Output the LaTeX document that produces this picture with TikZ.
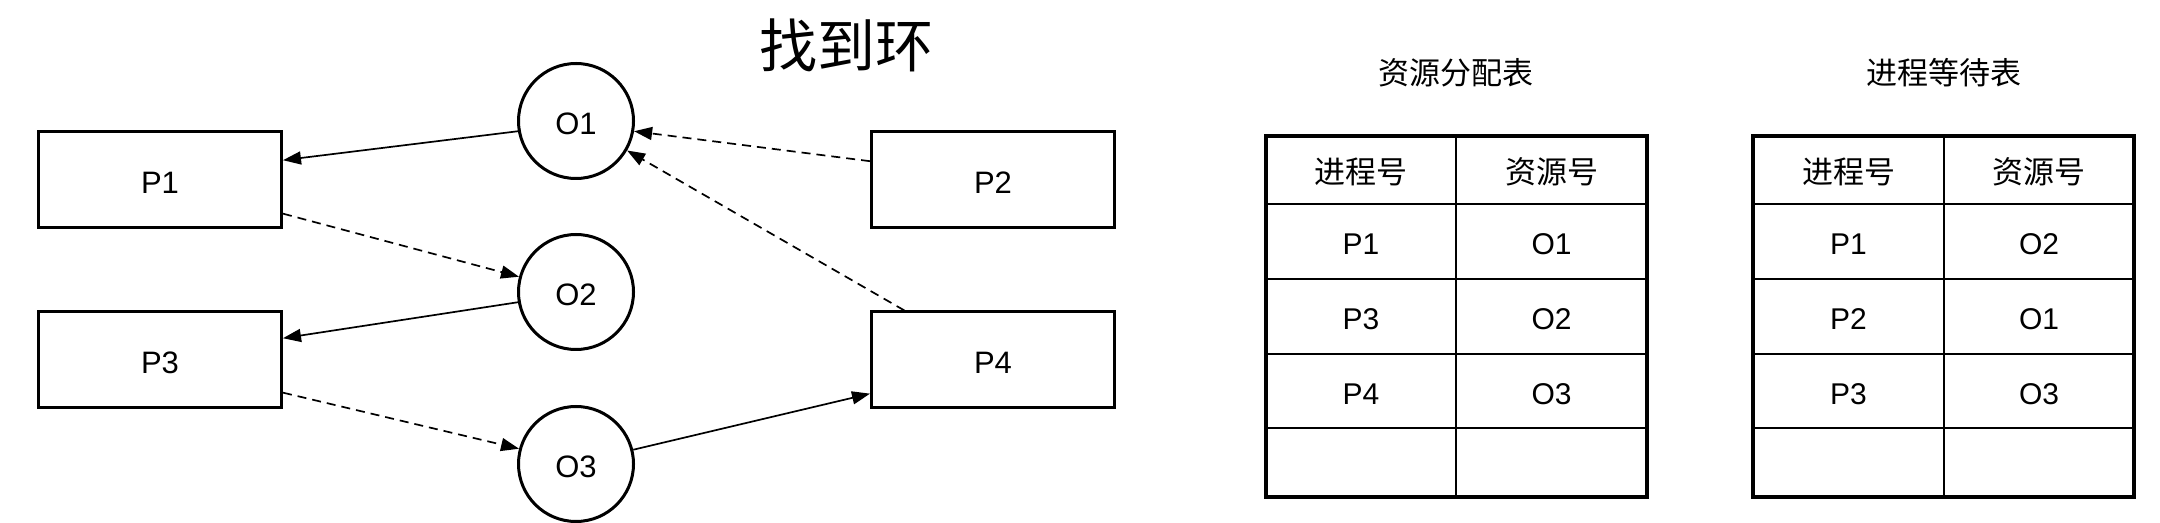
\documentclass[tikz,border=0pt]{standalone}
\usepackage{fontspec}
\setmainfont{Liberation Sans}
\newfontfamily\cjk{Noto Sans CJK SC}
\usetikzlibrary{arrows.meta,calc}
\begin{document}
\begin{tikzpicture}[x=1pt,y=1pt,
  proc/.style={draw, line width=3pt, minimum width=243pt, minimum height=96pt, inner sep=0pt, text height=27.5pt, text depth=0pt, font=\fontsize{31}{37}\selectfont},
  res/.style={draw, circle, line width=3pt, minimum size=115pt, inner sep=0pt, text height=28pt, text depth=0pt, font=\fontsize{31}{37}\selectfont},
  solidarrow/.style={line width=1.7pt, -{Triangle[length=18pt,width=13pt]}},
  dasharrow/.style={solidarrow, dash pattern=on 9pt off 6pt},
  title/.style={font=\cjk\fontsize{58}{66}\selectfont, inner sep=0pt},
  ttitle/.style={font=\cjk\fontsize{31}{37}\selectfont, inner sep=0pt},
  cellcjk/.style={font=\cjk\fontsize{31}{37}\selectfont, inner sep=0pt},
  cell/.style={font=\fontsize{30}{36}\selectfont, inner sep=0pt},
  outer/.style={line width=4pt},
  inner/.style={line width=2pt}]
\fill[white] (0,0) rectangle (2160,522);
\useasboundingbox (0,0) rectangle (2160,522);

% title
\node[title] (title) at (846,477) {找到环};

% processes
\node[proc] (P1) at (160,342) {P1};
\node[proc] (P3) at (160,162) {P3};
\node[proc] (P2) at (993,342) {P2};
\node[proc] (P4) at (993,162) {P4};

% resources
\node[res] (O1) at (576,401) {O1};
\node[res] (O2) at (576,230) {O2};
\node[res] (O3) at (576,58) {O3};

% connectors
\draw[solidarrow] (O1.190) -- ($(P1.north east)!0.3!(P1.south east)$);
\draw[dasharrow] ($(P1.north east)!0.84!(P1.south east)$) -- (O2.165);
\draw[solidarrow] (O2.190) -- ($(P3.north east)!0.28!(P3.south east)$);
\draw[dasharrow] ($(P3.north east)!0.83!(P3.south east)$) -- (O3.165);
\draw[solidarrow] (O3.14) -- ($(P4.north west)!0.84!(P4.south west)$);
\draw[dasharrow] ($(P2.north west)!0.31!(P2.south west)$) -- (O1.350);
\draw[dasharrow] ($(P4.north west)!0.14!(P4.north east)$) -- (O1.330);

% table titles
\node[ttitle] (t1title) at (1456,449) {资源分配表};
\node[ttitle] (t2title) at (1944,449) {进程等待表};

% table 1 grid
\draw[inner] (1456,386) -- (1456,25);
\foreach \y in {318,243,168,94} \draw[inner] (1266,\y) -- (1647,\y);
\draw[outer] (1266,386) rectangle (1647,25);
% table 2 grid
\draw[inner] (1943.5,386) -- (1943.5,25);
\foreach \y in {318,243,168,94} \draw[inner] (1753,\y) -- (2134,\y);
\draw[outer] (1753,386) rectangle (2134,25);

% table 1 texts
\node[cellcjk] (a00) at (1361,350) {进程号};
\node[cellcjk] (a01) at (1551.5,350) {资源号};
\node[cell] (a10) at (1361,277.5) {P1};
\node[cell] (a11) at (1551.5,277.5) {O1};
\node[cell] (a20) at (1361,202.5) {P3};
\node[cell] (a21) at (1551.5,202.5) {O2};
\node[cell] (a30) at (1361,128) {P4};
\node[cell] (a31) at (1551.5,128) {O3};

% table 2 texts
\node[cellcjk] (b00) at (1848.5,350) {进程号};
\node[cellcjk] (b01) at (2039,350) {资源号};
\node[cell] (b10) at (1848.5,277.5) {P1};
\node[cell] (b11) at (2039,277.5) {O2};
\node[cell] (b20) at (1848.5,202.5) {P2};
\node[cell] (b21) at (2039,202.5) {O1};
\node[cell] (b30) at (1848.5,128) {P3};
\node[cell] (b31) at (2039,128) {O3};
\end{tikzpicture}
\end{document}
